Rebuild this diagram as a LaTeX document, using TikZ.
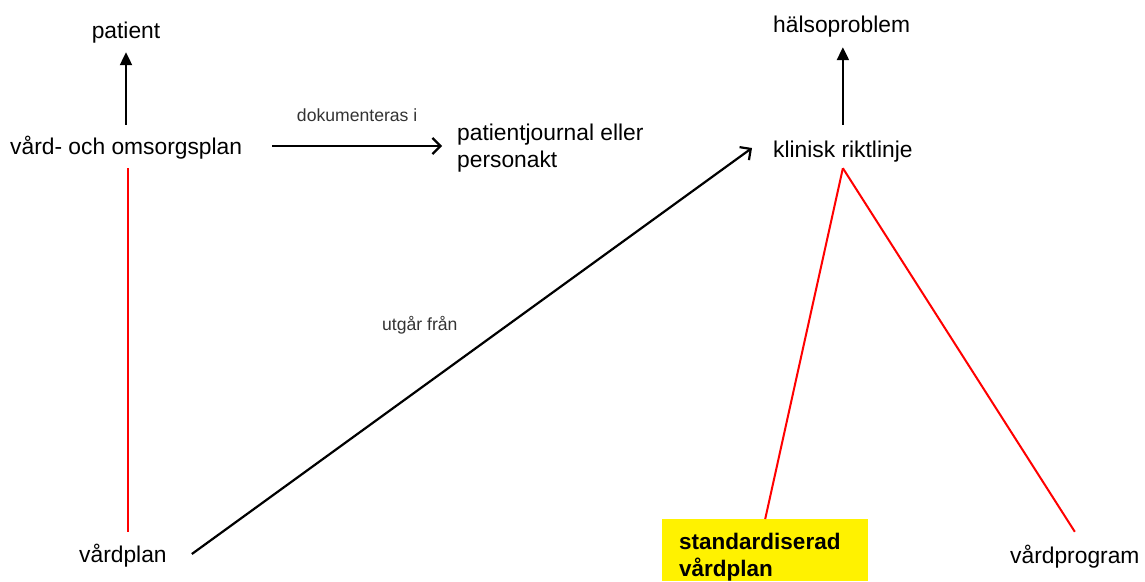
\documentclass[tikz,border=0pt]{standalone}
\usepackage{fontspec}
\setmainfont{Liberation Sans}
\usetikzlibrary{arrows.meta,calc}
\begin{document}
\begin{tikzpicture}[x=1pt,y=-1pt,
  lbl/.style={inner sep=0pt,text height=16pt,text depth=5pt,font=\fontsize{22.8}{27}\selectfont},
  small/.style={inner sep=0pt,font=\fontsize{17.6}{20}\selectfont,text=black!80},
  conn/.style={line width=2.2pt,draw=black},
  redl/.style={draw=red,line width=2pt},
  uparr/.style={conn,-{Triangle[length=13pt,width=12pt]}},
  openarr/.style={conn,-{Straight Barb[length=8pt,width=16pt]}}]
\useasboundingbox (0,0) rectangle (1145,581);
% nodes
\node[lbl,anchor=base] (pat) at (126,38) {patient};
\node[lbl,anchor=base west] (vo) at (10,154) {vård- och omsorgsplan};
\node[lbl,anchor=base west] (vp) at (79,562) {vårdplan};
\node[lbl,anchor=base west,align=left,text height=,text depth=] (pj) at (457,167) {patientjournal eller\\personakt};
\node[lbl,anchor=base west] (kr) at (773,157) {klinisk riktlinje};
\node[lbl,anchor=base west] (hp) at (773,32) {hälsoproblem};
\node[lbl,anchor=base west] (vpr) at (1010,563) {vårdprogram};
\node[fill=yellow,inner sep=0pt,minimum width=206pt,minimum height=62pt,anchor=north west] (sbox) at (662,519) {};
\node[lbl,anchor=base west,align=left,font=\bfseries\fontsize{22.5}{27}\selectfont,text height=,text depth=] (sv) at (679,576) {standardiserad\\vårdplan};
\node[small,anchor=base west] (ut) at (382,330) {utgår från};
% connectors
\draw[uparr] ([yshift=13pt]vo.north -| pat.south) -- ([yshift=-9pt]pat.south);
\draw[redl] ([xshift=2pt,yshift=-9pt]vo.south) coordinate (r1) -- ([yshift=14pt]r1 |- vp.north);
\draw[openarr] ([xshift=30pt,yshift=2.5pt]vo.east) coordinate (a1) -- ($(pj.west |- a1)+(-15,0)$)
  node[small,midway,above=23pt] (dok) {dokumenteras i};
\draw[openarr] ([xshift=25pt,yshift=2.5pt]vp.east) -- ([xshift=-21pt,yshift=3.5pt]kr.west);
\draw[uparr] ([yshift=16pt]kr.north) -- ([yshift=-10pt]kr.north |- hp.south);
\draw[redl] ([yshift=-6pt]kr.south) coordinate (apex) -- (sbox.north);
\draw[redl] (apex) -- ([yshift=15pt]vpr.north);
\end{tikzpicture}
\end{document}
